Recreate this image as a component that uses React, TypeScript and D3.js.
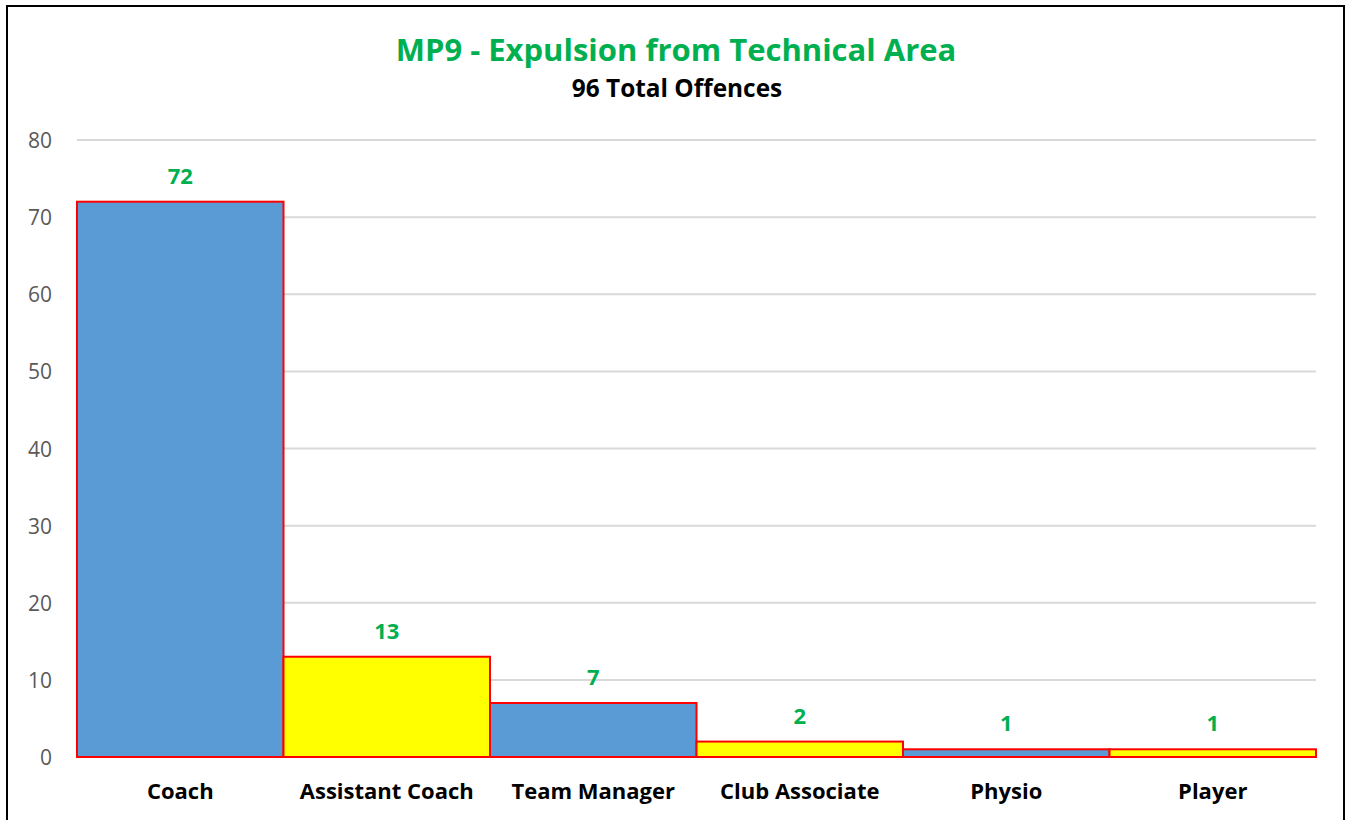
import React from "react";
import * as d3 from "d3";

const categories = ["Coach", "Assistant Coach", "Team Manager", "Club Associate", "Physio", "Player"];
const values = [72, 13, 7, 2, 1, 1];
const barColors = ["#5B9BD5", "#FFFF00", "#5B9BD5", "#FFFF00", "#5B9BD5", "#FFFF00"];
const yTicks = [0, 10, 20, 30, 40, 50, 60, 70, 80];
const title = "MP9 - Expulsion from Technical Area";
const subtitle = "96 Total Offences";

const W = 1349;
const H = 820;
const FONT = "'Open Sans', Lato, sans-serif";

export default function App() {
  const left = 77, right = 1316, top = 140, bottom = 757;
  const x = d3.scaleBand<string>().domain(categories).range([left, right]).padding(0);
  const y = d3.scaleLinear().domain([0, 80]).range([bottom, top]);

  return (
    <svg width={W} height={H} style={{ position: "absolute", left: 0, top: 0, background: "#fff" }}>
      <rect x={7} y={6} width={1337} height={830} fill="#fff" stroke="#000" strokeWidth={2} />
      <text x={676} y={61} textAnchor="middle" fontFamily={FONT} fontWeight={700} fontSize={31} fill="#00B050">
        {title}
      </text>
      <text x={677} y={97} textAnchor="middle" fontFamily={FONT} fontWeight={700} fontSize={24.4} fill="#000">
        {subtitle}
      </text>
      {yTicks.map((t) => (
        <g key={t}>
          <line x1={left} x2={right} y1={y(t)} y2={y(t)} stroke="#D9D9D9" strokeWidth={2} />
          <text x={52} y={y(t) + 8} textAnchor="end" fontFamily={FONT} fontSize={21} fill="#595959">
            {t}
          </text>
        </g>
      ))}
      {categories.map((c, i) => {
        const bx = x(c)!;
        const bw = x.bandwidth();
        const by = y(values[i]);
        return (
          <g key={c}>
            <rect x={bx} y={by} width={bw} height={bottom - by} fill={barColors[i]} stroke="#FF0000" strokeWidth={2} />
            <text x={bx + bw / 2} y={by - 18} textAnchor="middle" fontFamily={FONT} fontWeight={700} fontSize={22} fill="#00B050">
              {values[i]}
            </text>
            <text x={bx + bw / 2} y={799} textAnchor="middle" fontFamily={FONT} fontWeight={700} fontSize={22} fill="#000">
              {c}
            </text>
          </g>
        );
      })}
    </svg>
  );
}
